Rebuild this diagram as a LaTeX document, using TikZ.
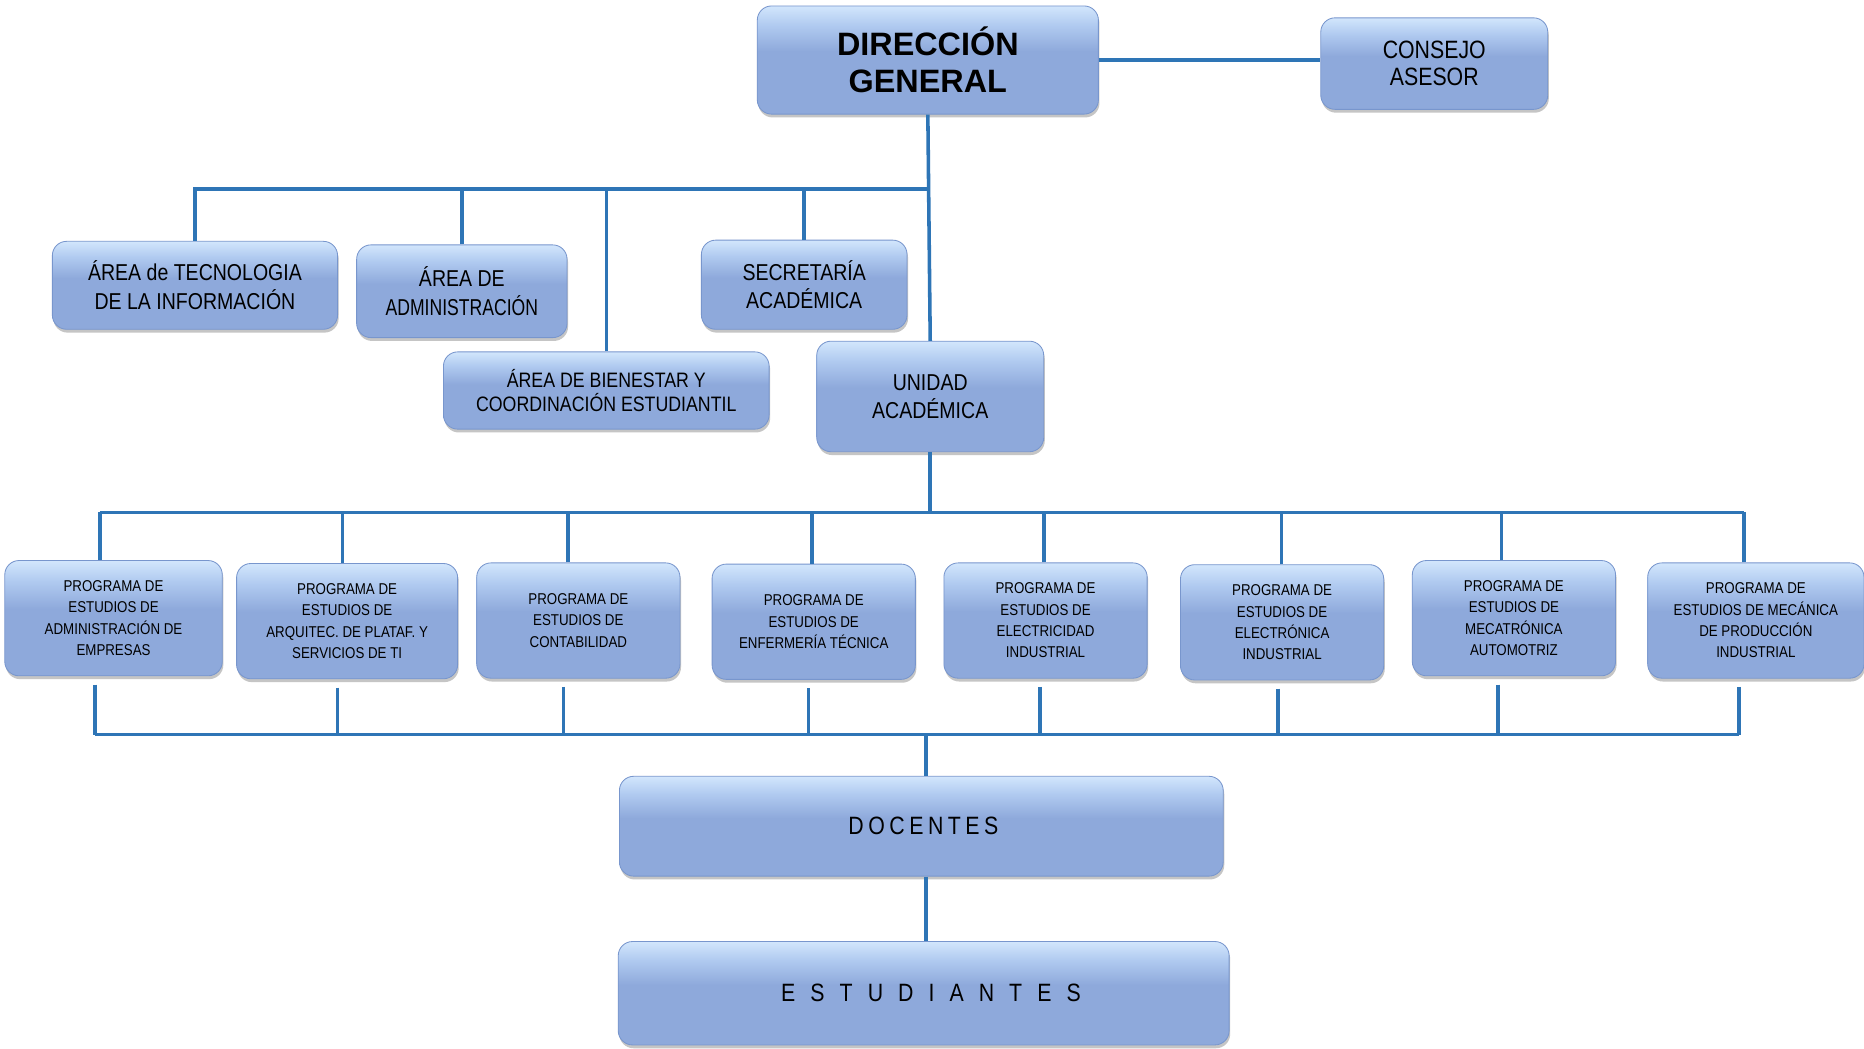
\documentclass[tikz,border=0pt]{standalone}
\usepackage{fontspec}
\setmainfont{Liberation Sans}
\newfontfamily\narrowfont{Liberation Sans}[FakeStretch=0.85]
\newfontfamily\spacedfont{Liberation Sans}[FakeStretch=0.85,LetterSpace=18]
\newfontfamily\widefont{Liberation Sans}[FakeStretch=0.85,LetterSpace=60]
\usetikzlibrary{shadows}

\definecolor{boxblue}{RGB}{142,169,219}
\definecolor{boxlight}{RGB}{176,202,240}
\definecolor{boxtop}{RGB}{210,230,252}
\definecolor{boxedge}{RGB}{120,150,205}
\definecolor{linkblue}{RGB}{46,117,182}

\pgfdeclareverticalshading{bevel}{100bp}{color(0bp)=(boxblue); color(25bp)=(boxblue); color(54bp)=(boxblue); color(66bp)=(boxlight); color(75bp)=(boxtop); color(100bp)=(boxtop)}

\tikzset{
  orgbox/.style={rectangle, rounded corners=0.24cm, shading=bevel, draw=boxedge,
    line width=0.4pt, align=center, inner sep=2pt,
    drop shadow={shadow xshift=0.5pt, shadow yshift=-1.6pt, fill=black!45, opacity=0.5}},
  bigtext/.style={font=\narrowfont\fontsize{11}{13.6}\selectfont},
  smalltext/.style={font=\narrowfont\fontsize{7.5}{10.2}\selectfont},
  progbox/.style={orgbox, smalltext, minimum height=1.94cm},
  conn/.style={draw=linkblue, line width=1.7pt},
}

\begin{document}
\begin{tikzpicture}[x=0.02cm, y=-0.02cm]
\useasboundingbox[fill=white] (0,0) rectangle (1568,882);

% top level
\node[orgbox, minimum width=5.74cm, minimum height=1.82cm,
  font=\bfseries\fontsize{15.5}{17.6}\selectfont] (dg) at (780.5,50.5) {DIRECCIÓN\\GENERAL};
\node[orgbox, minimum width=3.82cm, minimum height=1.54cm,
  font=\narrowfont\fontsize{12}{13}\selectfont] (ca) at (1206.5,53.5) {CONSEJO\\ASESOR};

% areas
\node[orgbox, bigtext, minimum width=4.8cm, minimum height=1.48cm] (ti) at (164,240) {ÁREA de TECNOLOGIA\\DE LA INFORMACIÓN};
\node[orgbox, bigtext, minimum width=3.54cm, minimum height=1.56cm] (adm) at (388.5,245) {ÁREA DE\\\scalebox{0.9}[1]{ADMINISTRACIÓN}};
\node[orgbox, bigtext, minimum width=3.46cm, minimum height=1.5cm] (sec) at (676.5,239.5) {SECRETARÍA\\ACADÉMICA};
\node[orgbox, minimum width=5.48cm, minimum height=1.3cm,
  font=\narrowfont\fontsize{10}{11.5}\selectfont] (bien) at (510,328.5) {ÁREA DE BIENESTAR Y\\COORDINACIÓN ESTUDIANTIL};
\node[orgbox, bigtext, minimum width=3.82cm, minimum height=1.86cm] (ua) at (782.5,333.5) {UNIDAD\\ACADÉMICA};

% study programmes
\node[progbox, minimum width=3.66cm] (p1) at (95.5,520) {PROGRAMA DE\\ESTUDIOS DE\\ADMINISTRACIÓN DE\\EMPRESAS};
\node[progbox, minimum width=3.72cm] (p2) at (292,522.5) {PROGRAMA DE\\ESTUDIOS DE\\ARQUITEC. DE PLATAF. Y\\SERVICIOS DE TI};
\node[progbox, minimum width=3.42cm] (p3) at (486.5,522) {PROGRAMA DE\\ESTUDIOS DE\\CONTABILIDAD};
\node[progbox, minimum width=3.42cm] (p4) at (684.5,523) {PROGRAMA DE\\ESTUDIOS DE\\ENFERMERÍA TÉCNICA};
\node[progbox, minimum width=3.42cm] (p5) at (879.5,522) {PROGRAMA DE\\ESTUDIOS DE\\ELECTRICIDAD\\INDUSTRIAL};
\node[progbox, minimum width=3.42cm] (p6) at (1078.5,523.5) {PROGRAMA DE\\ESTUDIOS DE\\ELECTRÓNICA\\INDUSTRIAL};
\node[progbox, minimum width=3.42cm] (p7) at (1273.5,520) {PROGRAMA DE\\ESTUDIOS DE\\MECATRÓNICA\\AUTOMOTRIZ};
\node[progbox, minimum width=3.64cm] (p8) at (1477,522) {PROGRAMA DE\\ESTUDIOS DE MECÁNICA\\DE PRODUCCIÓN\\INDUSTRIAL};

% teachers and students
\node[orgbox, minimum width=10.16cm, minimum height=1.68cm,
  font=\spacedfont\fontsize{12}{14}\selectfont] (doc) at (775,695) {\kern2pt DOCENTES};
\node[orgbox, minimum width=10.28cm, minimum height=1.74cm,
  font=\widefont\fontsize{12}{14}\selectfont] (est) at (777,835.5) {\kern7pt ESTUDIANTES};

% direction links
\draw[conn] (dg.east) -- (dg.east -| ca.west);
\coordinate (busA) at (781,159);
\draw[conn] (dg.south) -- (ua.north);
\draw[conn] (ti.north) |- (busA);
\foreach \n in {adm,bien,sec}
  \draw[conn] (\n.north) -- (\n.north |- busA);

% programme links
\coordinate (busB) at (782.5,431);
\coordinate (busC) at (779,618);
\draw[conn] (ua.south) -- (busB);
\foreach \p/\dt/\db in {p1/-11.5/-15.5, p2/-4/-8, p3/-8.5/-12.5, p4/-1.5/-4.5,
                        p5/-1.5/-4.5, p6/-0.5/-3.5, p7/-10.5/-13.5, p8/-10/-14}
{
  \path ([xshift=\dt*0.02cm]\p.north) coordinate (t\p);
  \path ([xshift=\db*0.02cm, yshift=-0.14cm]\p.south) coordinate (b\p);
  \draw[conn] (t\p) -- (t\p |- busB);
  \draw[conn] (b\p) -- (b\p |- busC);
}
\draw[conn] (tp1 |- busB) -- (tp8 |- busB);
\draw[conn] (bp1 |- busC) -- (bp8 |- busC);
\draw[conn] (busC) -- (busC |- doc.north);
\draw[conn] (doc.south -| busC) -- (est.north -| busC);
\end{tikzpicture}
\end{document}
